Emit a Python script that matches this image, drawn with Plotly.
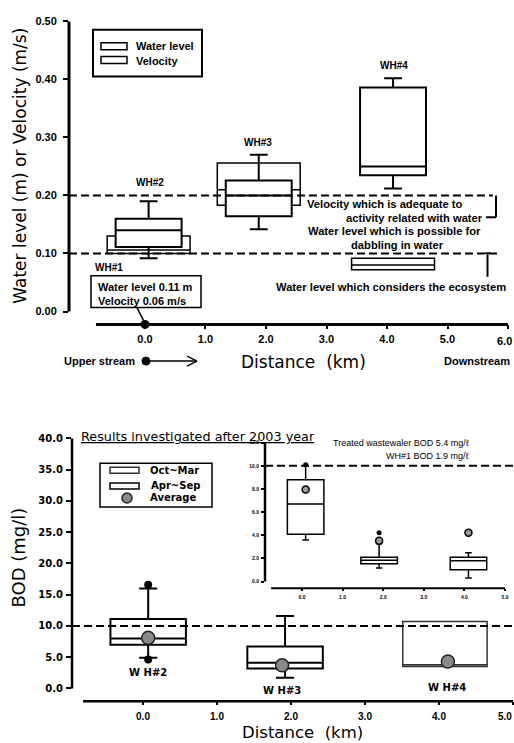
import plotly.graph_objects as go

W, H = 514, 743

# ---------------- data: upper panel (water level & velocity) ----------------
top_stations = ["WH#2", "WH#3", "WH#4"]
top_dist = [0.06, 1.88, 4.10]
wl_q1 = [0.100, 0.183, 0.072]
wl_median = [0.106, 0.210, 0.080]
wl_q3 = [0.130, 0.256, 0.092]
vel_low = [0.092, 0.142, 0.212]
vel_q1 = [0.111, 0.164, 0.235]
vel_median = [0.140, 0.200, 0.250]
vel_q3 = [0.160, 0.226, 0.386]
vel_high = [0.190, 0.270, 0.402]
wh1_dist = [0.0]
wh1_water_level = 0.11
wh1_velocity = 0.06
velocity_criterion = 0.20
water_level_criterion = 0.10
top_xticks = [0, 1, 2, 3, 4, 5, 6]
top_yticks = [0.0, 0.1, 0.2, 0.3, 0.4, 0.5]

# ---------------- data: lower panel (BOD) ----------------
bod_stations = ["WH#2", "WH#3", "WH#4"]
apr_sep_dist = [0.07, 1.92]
apr_sep_low = [4.9, 1.7]
apr_sep_q1 = [7.0, 3.2]
apr_sep_median = [8.0, 4.1]
apr_sep_q3 = [11.1, 6.7]
apr_sep_high = [16.0, 11.6]
oct_mar_dist = [4.08]
oct_mar_q1 = [3.5]
oct_mar_median = [3.8]
oct_mar_q3 = [10.7]
bod_avg_dist = [0.07, 1.88, 4.12]
bod_avg = [8.1, 3.7, 4.3]
bod_outlier_dist = [0.07, 0.07]
bod_outlier = [16.6, 4.65]
bod_standard = 10.0
bod_xticks = [0, 1, 2, 3, 4, 5]
bod_yticks = [0, 5, 10, 15, 20, 25, 30, 35, 40]

# ---------------- data: inset (BOD, zoomed) ----------------
ins_dist = [0.09, 1.90, 4.10]
ins_low = [3.6, 1.17, 0.31]
ins_q1 = [4.1, 1.55, 1.03]
ins_median = [6.7, 1.85, 1.80]
ins_q3 = [8.8, 2.11, 2.11]
ins_high = [10.0, 3.3, 2.5]
ins_avg = [7.95, 3.52, 4.23]
ins_outlier_dist = [0.09, 1.90]
ins_outlier = [10.1, 4.23]
ins_xticks = [0, 1, 2, 3, 4, 5]
ins_yticks = [0, 2, 4, 6, 8, 10, 12]


def px(x):
    return x / W


def py(y):
    return 1 - y / H


BOLD = "Liberation Sans"
WIDE = "DejaVu Sans"

fig = go.Figure()

# ---- upper panel boxes ----
fig.add_trace(go.Box(
    x=top_dist, q1=wl_q1, median=wl_median, q3=wl_q3, name="Water level",
    orientation="v", width=1.37, whiskerwidth=0, boxpoints=False,
    fillcolor="white", line=dict(color="black", width=1.5),
    xaxis="x", yaxis="y", hoverinfo="skip"))
fig.add_trace(go.Box(
    x=top_dist, q1=vel_q1, median=vel_median, q3=vel_q3,
    lowerfence=vel_low, upperfence=vel_high, name="Velocity",
    orientation="v", width=1.09, whiskerwidth=0.27, boxpoints=False,
    fillcolor="white", line=dict(color="black", width=2),
    xaxis="x", yaxis="y", hoverinfo="skip"))
fig.add_trace(go.Scatter(
    x=wh1_dist, y=[-0.0222], mode="markers", cliponaxis=False,
    marker=dict(color="black", size=9), xaxis="x", yaxis="y", hoverinfo="skip"))

# ---- lower panel boxes ----
fig.add_trace(go.Box(
    x=oct_mar_dist, q1=oct_mar_q1, median=oct_mar_median, q3=oct_mar_q3,
    name="Oct~Mar", orientation="v", width=1.14, whiskerwidth=0, boxpoints=False,
    fillcolor="white", line=dict(color="#333333", width=1.5),
    xaxis="x2", yaxis="y2", hoverinfo="skip"))
fig.add_trace(go.Box(
    x=apr_sep_dist, q1=apr_sep_q1, median=apr_sep_median, q3=apr_sep_q3,
    lowerfence=apr_sep_low, upperfence=apr_sep_high, name="Apr~Sep",
    orientation="v", width=1.02, whiskerwidth=0.24, boxpoints=False,
    fillcolor="white", line=dict(color="black", width=2),
    xaxis="x2", yaxis="y2", hoverinfo="skip"))
fig.add_trace(go.Scatter(
    x=bod_outlier_dist, y=bod_outlier, mode="markers",
    marker=dict(color="black", size=8), xaxis="x2", yaxis="y2", hoverinfo="skip"))
fig.add_trace(go.Scatter(
    x=bod_avg_dist, y=bod_avg, mode="markers", name="Average",
    marker=dict(color="#8a8a8a", size=13, line=dict(color="#222222", width=1.5)),
    xaxis="x2", yaxis="y2", hoverinfo="skip"))

# ---- inset boxes ----
fig.add_trace(go.Box(
    x=ins_dist, q1=ins_q1, median=ins_median, q3=ins_q3,
    lowerfence=ins_low, upperfence=ins_high, orientation="v", width=0.9,
    whiskerwidth=0.18, boxpoints=False, fillcolor="white",
    line=dict(color="black", width=1.5), xaxis="x3", yaxis="y3", hoverinfo="skip"))
fig.add_trace(go.Scatter(
    x=ins_outlier_dist, y=ins_outlier, mode="markers",
    marker=dict(color="black", size=5), xaxis="x3", yaxis="y3", hoverinfo="skip"))
fig.add_trace(go.Scatter(
    x=ins_dist, y=ins_avg, mode="markers",
    marker=dict(color="#9a9a9a", size=7, line=dict(color="black", width=1.5)),
    xaxis="x3", yaxis="y3", hoverinfo="skip"))


def ax(rng, dom, anchor, tickvals, fmt, font, ticklen, standoff, tickwidth=2, hide_last=False):
    text = [format(v, fmt) for v in tickvals]
    if hide_last:
        text[-1] = ""  # edge label drawn separately so it stays inside the page
    return dict(range=rng, domain=dom, anchor=anchor, tickmode="array",
                tickvals=tickvals, ticktext=text,
                showgrid=False, zeroline=False, showline=False, ticks="outside",
                ticklen=ticklen, tickwidth=tickwidth, tickcolor="black",
                tickfont=font, ticklabelstandoff=standoff, fixedrange=True)


f_top = dict(family=BOLD, size=11, color="black", weight="bold")
f_bot_y = dict(family=WIDE, size=10, color="black", weight="bold")
f_bot_x = dict(family=BOLD, size=10, color="black", weight="bold")
f_ins = dict(family=BOLD, size=5, color="black", weight="bold")

fig.update_layout(
    width=W, height=H, margin=dict(l=0, r=0, t=0, b=0), autosize=False,
    paper_bgcolor="white", plot_bgcolor="rgba(0,0,0,0)", showlegend=False,
    xaxis=ax([-1.256, 6.099], [px(69), 1], "y", top_xticks, ".1f", f_top, 4, 0, hide_last=True),
    yaxis=ax([-0.0222, 0.5009], [py(321), py(15)], "x", top_yticks, ".2f", f_top, 5, 4),
    xaxis2=ax([-0.9595, 5.0135], [px(72), 1], "y2", bod_xticks, ".1f", f_bot_x, 3, 3, hide_last=True),
    yaxis2=ax([-2.063, 40.16], [py(701), py(435)], "x2", bod_yticks, ".1f", f_bot_y, 5, 1),
    xaxis3=ax([-0.911, 5.222], [px(265), 1], "y3", ins_xticks, ".1f", f_ins, 2, 2, 1.5),
    yaxis3=ax([-0.574, 12.11], [py(587), py(439)], "x3", ins_yticks, ".1f", f_ins, 3, 1, 1.5),
)

shapes = []
# axis lines
shapes += [
    dict(type="line", xref="x domain", yref="y", x0=0, x1=0, y0=0, y1=0.5,
         line=dict(color="black", width=3)),
    dict(type="line", xref="x", yref="y domain", x0=-0.81, x1=6.0, y0=0, y1=0,
         line=dict(color="black", width=3)),
    dict(type="line", xref="x2 domain", yref="y2", x0=0, x1=0, y0=0, y1=40,
         line=dict(color="black", width=2.5)),
    dict(type="line", xref="x2", yref="y2 domain", x0=-0.81, x1=5.0, y0=0, y1=0,
         line=dict(color="black", width=2.5)),
    dict(type="line", xref="x3 domain", yref="y3", x0=0, x1=0, y0=0, y1=12,
         line=dict(color="black", width=2.5)),
    dict(type="line", xref="x3", yref="y3 domain", x0=-0.76, x1=5.0, y0=0, y1=0,
         line=dict(color="black", width=2)),
]
# criterion dashed lines
dash = "8px,4px"
shapes += [
    dict(type="line", xref="x", yref="y", x0=-1.256, x1=5.75,
         y0=velocity_criterion, y1=velocity_criterion, line=dict(color="black", width=2, dash=dash)),
    dict(type="line", xref="x", yref="y", x0=-1.256, x1=5.84,
         y0=water_level_criterion, y1=water_level_criterion, line=dict(color="black", width=2, dash=dash)),
    dict(type="line", xref="x2", yref="y2", x0=-0.9595, x1=4.99,
         y0=bod_standard, y1=bod_standard, line=dict(color="black", width=2, dash=dash)),
    dict(type="line", xref="x3", yref="y3", x0=-0.911, x1=5.2,
         y0=bod_standard, y1=bod_standard, line=dict(color="black", width=2, dash=dash)),
]
# brackets (pixel placed)
P = dict(xref="paper", yref="paper")
shapes += [
    dict(type="line", **P, x0=px(496), x1=px(496), y0=py(191), y1=py(213), line=dict(color="black", width=2)),
    dict(type="line", **P, x0=px(486), x1=px(496), y0=py(213), y1=py(213), line=dict(color="black", width=2)),
    dict(type="line", **P, x0=px(487.5), x1=px(487.5), y0=py(249), y1=py(273), line=dict(color="black", width=2)),
    dict(type="line", **P, x0=px(485), x1=px(490), y0=py(249), y1=py(249), line=dict(color="black", width=1.5)),
]
# upper legend
shapes += [
    dict(type="rect", **P, x0=px(93), x1=px(202), y0=py(71), y1=py(24), line=dict(color="black", width=2), fillcolor="white", layer="below"),
    dict(type="rect", **P, x0=px(101), x1=px(127), y0=py(44), y1=py(37), line=dict(color="black", width=1.5)),
    dict(type="rect", **P, x0=px(101), x1=px(127), y0=py(58), y1=py(51), line=dict(color="black", width=1.5)),
]
# WH#1 info box and leader
shapes += [
    dict(type="rect", **P, x0=px(91), x1=px(201), y0=py(304), y1=py(272), line=dict(color="black", width=1.5), fillcolor="white"),
    dict(type="line", **P, x0=px(137), x1=px(145), y0=py(304), y1=py(320), line=dict(color="black", width=1.5)),
]
# upper stream arrow
shapes += [
    dict(type="circle", **P, x0=px(142), x1=px(150), y0=py(362), y1=py(354), fillcolor="black", line=dict(color="black", width=1)),
    dict(type="line", **P, x0=px(146), x1=px(196), y0=py(358), y1=py(358), line=dict(color="black", width=1.5)),
    dict(type="line", **P, x0=px(187), x1=px(197), y0=py(353), y1=py(358), line=dict(color="black", width=1.5)),
    dict(type="line", **P, x0=px(187), x1=px(197), y0=py(363), y1=py(358), line=dict(color="black", width=1.5)),
]
# lower legend
shapes += [
    dict(type="rect", **P, x0=px(100), x1=px(212), y0=py(505), y1=py(461), line=dict(color="black", width=1.5), fillcolor="white", layer="below"),
    dict(type="rect", **P, x0=px(110), x1=px(139), y0=py(471), y1=py(465), line=dict(color="#333333", width=1.5)),
    dict(type="rect", **P, x0=px(110), x1=px(139), y0=py(487), y1=py(481), line=dict(color="black", width=1.5)),
    dict(type="circle", **P, x0=px(122), x1=px(132), y0=py(501), y1=py(491), fillcolor="#8a8a8a", line=dict(color="#222222", width=1.5)),
]
fig.update_layout(shapes=shapes)

anns = []


def A(text, x, y, size=11, family=BOLD, bold=True, xanchor="center", angle=0, color="black"):
    anns.append(dict(text=text, x=px(x), y=py(y), xref="paper", yref="paper",
                     xanchor=xanchor, yanchor="middle", showarrow=False, textangle=angle,
                     font=dict(family=family, size=size, color=color,
                               weight="bold" if bold else "normal")))


# edge tick labels (kept inside the page)
A(format(top_xticks[-1], ".1f"), 514, 338, 11, xanchor="right")
A(format(bod_xticks[-1], ".1f"), 514, 716, 10, xanchor="right")

# upper panel texts
A("Water level", 134, 40.5, 11, xanchor="left")
A("Velocity", 134, 55, 11, xanchor="left")
A(top_stations[0], 150, 178, 10)
A(top_stations[1], 258, 138, 10)
A(top_stations[2], 394, 60, 10)
A("WH#1", 109, 264, 10)
A(f"Water level {wh1_water_level:.2f} m", 96, 283, 11, xanchor="left")
A(f"Velocity {wh1_velocity:.2f} m/s", 96, 297, 11, xanchor="left")
A("Velocity which is adequate to", 305, 200, 11.2, xanchor="left")
A("activity related with water", 485, 214, 11.2, xanchor="right")
A("Water level which is possible for", 394, 227, 11.2)
A("dabbling in water", 397, 241, 11.2)
A("Water level which considers the ecosystem", 391, 283, 11.2)
A("Upper stream", 137, 358, 11, xanchor="right")
A("Downstream", 512, 358, 11, xanchor="right")
A("Distance\u00a0 (km)", 303, 359, 17, family=WIDE, bold=False)
A("Water level (m) or Velocity (m/s)", 20, 161, 17, family=WIDE, bold=False, angle=-90)

# lower panel texts
A("<u>Results investigated after 2003 year</u>", 79, 434, 12.8, family=WIDE, bold=False, xanchor="left")
A("Oct~Mar", 174, 468, 10, family=WIDE)
A("Apr~Sep", 175, 483, 10, family=WIDE)
A("Average", 173, 496, 10, family=WIDE)
A("W H#2", 148, 672, 10, family=WIDE)
A("W H#3", 282, 690, 10, family=WIDE)
A("W H#4", 447, 687, 10, family=WIDE)
A("Distance\u00a0 (km)", 302, 732, 16.5, family=WIDE, bold=False)
A("BOD (mg/l)", 19, 556, 18, family=WIDE, bold=False, angle=-90)
A("Treated wastewaler BOD 5.4 mg/\u2113", 472, 441, 9, bold=False, xanchor="right")
A("WH#1 BOD 1.9 mg/\u2113", 472, 454, 9, bold=False, xanchor="right")

fig.update_layout(annotations=anns)
fig.write_html("out.html")
